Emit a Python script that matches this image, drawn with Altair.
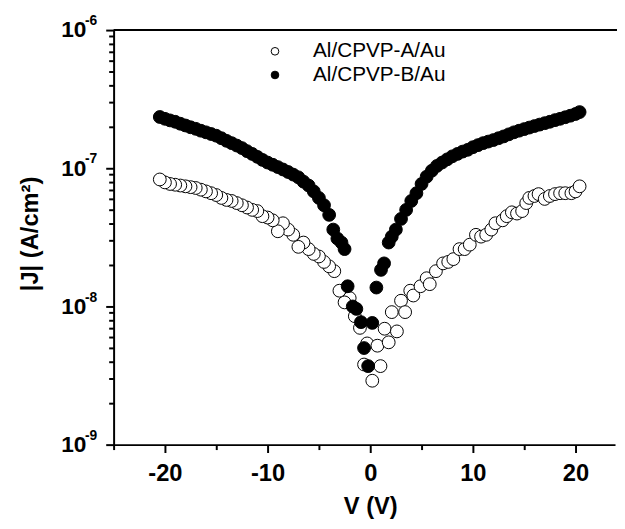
import altair as alt
import pandas as pd

SERIES = ["Al/CPVP-A/Au", "Al/CPVP-B/Au"]

# Series A (open circles): voltage (V) and |J| (A/cm^2)
V_A = [-20.5, -20, -19.5, -19, -18.5, -18, -17.5, -17, -16.5, -16, -15.5, -15,
       -14.5, -14, -13.5, -13, -12.5, -12, -11.5, -11, -10.5, -10, -9.5, -9,
       -8.5, -8, -7.5, -7, -6.5, -6, -5.5, -5, -4.5, -4, -3.5, -3, -2.5, -2,
       -1.5, -1, -0.6, -0.3, 0.2, 0.7, 1.0, 1.4, 1.8, 2.1, 2.6, 3.0, 3.4, 3.9,
       4.2, 4.9, 5.5, 5.8, 6.4, 7.1, 7.6, 8.1, 8.7, 9.2, 9.7, 10.3, 10.8, 11.3,
       11.8, 12.2, 12.9, 13.3, 13.8, 14.3, 14.8, 15.2, 15.5, 16.0, 16.4, 17.0,
       17.5, 18.0, 18.5, 19.0, 19.6, 20.0, 20.4]
J_A = [8.3e-8, 7.9e-8, 7.7e-8, 7.6e-8, 7.5e-8, 7.4e-8, 7.3e-8, 7.2e-8, 7.0e-8,
       6.8e-8, 6.6e-8, 6.4e-8, 6.1e-8, 5.9e-8, 5.8e-8, 5.6e-8, 5.4e-8, 5.2e-8,
       5.0e-8, 4.9e-8, 4.5e-8, 4.4e-8, 4.2e-8, 3.5e-8, 4.0e-8, 3.6e-8, 3.3e-8,
       2.7e-8, 2.9e-8, 2.6e-8, 2.4e-8, 2.3e-8, 2.1e-8, 1.95e-8, 1.8e-8, 1.3e-8,
       1.07e-8, 1.15e-8, 8.5e-9, 7.0e-9, 3.8e-9, 5.4e-9, 2.9e-9, 5.2e-9, 3.7e-9,
       6.9e-9, 5.5e-9, 9.1e-9, 6.6e-9, 1.1e-8, 9.1e-9, 1.3e-8, 1.2e-8, 1.4e-8,
       1.6e-8, 1.45e-8, 1.8e-8, 2.05e-8, 2.1e-8, 2.2e-8, 2.6e-8, 2.6e-8, 2.8e-8,
       3.3e-8, 3.2e-8, 3.3e-8, 3.6e-8, 4.0e-8, 4.2e-8, 4.5e-8, 4.8e-8, 4.7e-8,
       4.9e-8, 5.6e-8, 6.1e-8, 6.3e-8, 6.5e-8, 6.0e-8, 6.3e-8, 6.5e-8, 6.6e-8,
       6.6e-8, 6.6e-8, 6.8e-8, 7.4e-8]

# Series B (filled circles)
V_B = [-20.5, -20, -19.5, -19, -18.5, -18, -17.5, -17, -16.5, -16, -15.5, -15,
       -14.5, -14, -13.5, -13, -12.5, -12, -11.5, -11, -10.5, -10, -9.5, -9,
       -8.5, -8, -7.5, -7, -6.5, -6, -5.5, -5, -4.5, -4, -3.6, -3.2, -2.8, -2.5,
       -2.2, -1.7, -1.35, -0.9, -0.6, -0.2, 0.2, 0.6, 1.05, 1.35, 1.8, 2.1, 2.5,
       3.0, 3.5, 4.0, 4.5, 5.0, 5.5, 6.0, 6.5, 7.0, 7.5, 8.0, 8.5, 9.0, 9.5,
       10.0, 10.5, 11.0, 11.5, 12.0, 12.5, 13.0, 13.5, 14.0, 14.5, 15.0, 15.5,
       16.0, 16.5, 17.0, 17.5, 18.0, 18.5, 19.0, 19.5, 20.0, 20.4]
J_B = [2.35e-7, 2.28e-7, 2.22e-7, 2.17e-7, 2.1e-7, 2.04e-7, 1.98e-7, 1.93e-7,
       1.87e-7, 1.82e-7, 1.77e-7, 1.72e-7, 1.65e-7, 1.58e-7, 1.52e-7, 1.46e-7,
       1.4e-7, 1.33e-7, 1.27e-7, 1.21e-7, 1.15e-7, 1.1e-7, 1.06e-7, 1.02e-7,
       9.8e-8, 9.4e-8, 9.0e-8, 8.6e-8, 8.0e-8, 7.5e-8, 6.8e-8, 6.1e-8, 5.4e-8,
       4.6e-8, 3.6e-8, 3.1e-8, 2.9e-8, 2.6e-8, 1.4e-8, 1.0e-8, 9.6e-9, 7.7e-9,
       5.0e-9, 3.7e-9, 7.6e-9, 1.37e-8, 1.84e-8, 2.05e-8, 2.9e-8, 3.2e-8, 3.6e-8,
       4.3e-8, 5.0e-8, 5.8e-8, 6.6e-8, 7.7e-8, 8.7e-8, 9.6e-8, 1.04e-7, 1.1e-7,
       1.16e-7, 1.22e-7, 1.27e-7, 1.32e-7, 1.36e-7, 1.42e-7, 1.47e-7, 1.52e-7,
       1.56e-7, 1.6e-7, 1.65e-7, 1.7e-7, 1.76e-7, 1.82e-7, 1.87e-7, 1.92e-7,
       1.97e-7, 2.02e-7, 2.07e-7, 2.12e-7, 2.17e-7, 2.23e-7, 2.28e-7, 2.34e-7,
       2.4e-7, 2.47e-7, 2.55e-7]

X_TICKS = [-25, -20, -15, -10, -5, 0, 5, 10, 15, 20]
Y_TICKS = [float(f"{k}e{e}") for e in (-9, -8, -7) for k in range(1, 10)] + [1e-6]
DECADES = [1e-9, 1e-8, 1e-7, 1e-6]
EXPONENTS = ["-9", "-8", "-7", "-6"]

rows = []
for s_idx, (vs, js) in enumerate([(V_A, J_A), (V_B, J_B)]):
    for v, j in zip(vs, js):
        rows.append({"V": v, "J": j, "series": SERIES[s_idx], "z": s_idx * 100 + abs(v)})
df = pd.DataFrame(rows)
exp_df = pd.DataFrame({"J": DECADES, "exp": EXPONENTS})

W, H = 508, 420
FONT = "Liberation Sans"
IS_DECADE = "abs(log(datum.value)/LN10 - round(log(datum.value)/LN10)) < 0.001"

y_scale = alt.Scale(type="log", domain=[1e-9, 1e-6], nice=False)

points = alt.Chart(df).mark_point(
    filled=True, shape="circle", size=168, stroke="black", strokeWidth=1,
    opacity=1, fillOpacity=1
).encode(
    x=alt.X("V:Q",
            scale=alt.Scale(domain=[-25, 23.85], nice=False, zero=False),
            axis=alt.Axis(
                values=X_TICKS, grid=False, title="V (V)",
                labelExpr="datum.value % 10 == 0 ? toString(datum.value) : ''",
                labelFont=FONT, labelFontSize=24, labelFontWeight="bold",
                labelPadding=9, labelColor="black",
                tickSize={"condition": {"test": "datum.value % 10 == 0", "value": 8}, "value": 5},
                tickWidth=2, tickColor="black", domainColor="black", domainWidth=2,
                titleFont=FONT, titleFontSize=24, titleFontWeight="bold", titleColor="black",
                titleX=260, titleY=70, titleBaseline="alphabetic",
            )),
    y=alt.Y("J:Q", scale=y_scale,
            axis=alt.Axis(
                values=Y_TICKS, grid=False, title="|J| (A/cm\u00b2)",
                labelExpr=IS_DECADE + " ? '10' : ''",
                labelFont=FONT, labelFontSize=23, labelFontWeight="bold",
                labelPadding=20, labelColor="black", labelBaseline="middle",
                tickSize={"condition": {"test": IS_DECADE, "value": 8}, "value": 5},
                tickWidth=2, tickColor="black", domainColor="black", domainWidth=2,
                titleFont=FONT, titleFontSize=24, titleFontWeight="bold", titleColor="black",
                titleX=-84, titleY=206, titleBaseline="middle", titleAngle=270,
            )),
    fill=alt.Fill("series:N",
                  scale=alt.Scale(domain=SERIES, range=["white", "black"]),
                  legend=alt.Legend(
                      title=None, orient="none", legendX=153, legendY=11,
                      labelFont=FONT, labelFontSize=21, labelColor="black",
                      symbolType="circle", symbolSize=60, symbolStrokeColor="black",
                      symbolStrokeWidth=1, labelOffset=28, rowPadding=2, padding=0,
                  )),
    order=alt.Order("z:Q"),
)

exponents = alt.Chart(exp_df).mark_text(
    align="left", baseline="alphabetic", font=FONT, fontSize=14, fontWeight="bold",
    color="black", dx=0, dy=-5,
).encode(
    x=alt.value(-29),
    y=alt.Y("J:Q", scale=y_scale),
    text="exp:N",
)

top_line = alt.Chart(pd.DataFrame({"k": [0]})).mark_rule(color="black", strokeWidth=2).encode(
    x=alt.value(0), x2=alt.value(W + 2), y=alt.value(0)
)

chart = alt.layer(points, exponents, top_line).properties(
    width=W, height=H,
    padding={"left": 107, "top": 19, "right": 2, "bottom": 74},
    autosize="none",
    background="white",
).configure_view(stroke=None)

chart.save("out.html", embed_options={"renderer": "svg", "actions": False})
